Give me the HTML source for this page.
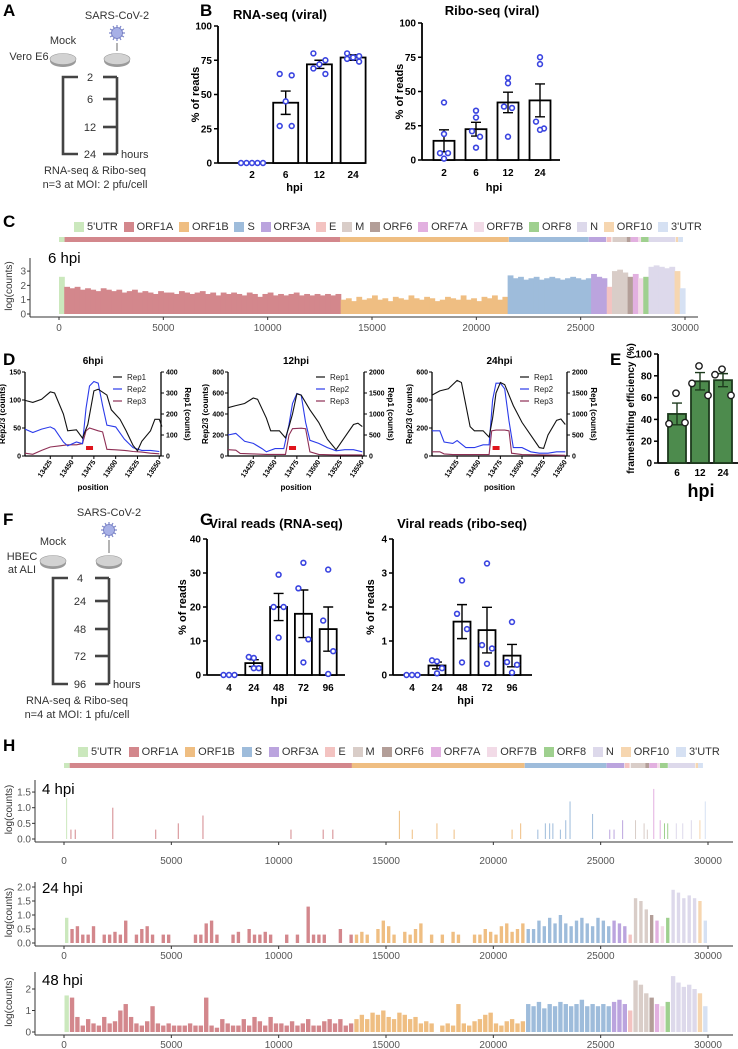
<!DOCTYPE html>
<html><head><meta charset="utf-8">
<style>
html,body{margin:0;padding:0;background:#fff;}
body{width:738px;height:1049px;position:relative;overflow:hidden;font-family:"Liberation Sans",sans-serif;}
svg{position:absolute;left:0;top:0;}
.lg{position:absolute;display:flex;justify-content:space-between;align-items:center;font-size:11px;color:#333;}
.lg span{display:flex;align-items:center;}
.lg i{display:inline-block;width:10px;height:10px;margin-right:3px;}
</style></head>
<body>
<svg id="fig" width="738" height="1049" viewBox="0 0 738 1049" xmlns="http://www.w3.org/2000/svg" font-family="Liberation Sans, sans-serif"></svg>
<div class="lg" id="legC" style="left:74px;top:221px;width:628px;"></div>
<div class="lg" id="legH" style="left:78px;top:746px;width:642px;"></div>
<script>
// ---------- DATA ----------
const geneNames = ["5'UTR","ORF1A","ORF1B","S","ORF3A","E","M","ORF6","ORF7A","ORF7B","ORF8","N","ORF10","3'UTR"];
const geneStarts = [0,266,13468,21563,25393,26245,26523,27202,27394,27756,27894,28274,29558,29675];
const geneEnds = [265,13483,21555,25384,26220,26472,27191,27387,27759,27887,28259,29533,29674,29903];
const geneColors = ["#cbe8bd","#d3878c","#efbe82","#9ebcdb","#bba4de","#f3c3c1","#d9cdc8","#b39e98","#e2b0e0","#f2dbe7","#9fd08f","#ddd9eb","#f6d6b0","#d6e1f3"];

const rnaCats = ["2","6","12","24"];
const rnaMeans = [0,44,72,77];
const rnaSems = [0,8.5,3,2];
const rnaPts = [[0,0,0,0,0],[65,64,45,27,27],[80,75,72,69,65],[80,78,77,76,74]];
const riboMeans = [14,22.5,42,43.5];
const riboSems = [8,5,7.5,12];
const riboPts = [[42,19,5,5,1],[36,31,21,17,9],[60,56,39,38,17],[75,70,28,23,22]];

const hbecCats = ["4","24","48","72","96"];
const hbecRnaMeans = [0,3.5,20,18,13.5];
const hbecRnaSems = [0,1,4,7,6.5];
const hbecRnaPts = [[0,0,0],[5,5.3,2,2],[29.5,20,20,11],[33,25.5,10.5,3.7],[31,16,7,0.3]];
const hbecRiboMeans = [0,0.28,1.57,1.32,0.57];
const hbecRiboSems = [0,0.1,0.5,0.67,0.33];
const hbecRiboPts = [[0,0,0],[0.4,0.43,0.2,0.05],[2.78,1.8,1.35,0.37],[3.28,0.88,0.78,0.33],[1.56,0.38,0.3,0.07]];

const fsCats = ["6","12","24"];
const fsMeans = [45,75,76];
const fsSems = [10,8,6];
const fsPts = [[64,36,37],[89,73,62],[86,81,62]];

const dPos6 = [13396,13405,13415,13425,13430,13440,13445,13455,13462,13468,13475,13480,13490,13495,13505,13512,13520,13525,13530,13540,13545,13550,13553];
const dRep1_6 = [265,255,270,305,300,200,120,125,85,150,310,318,290,220,175,120,50,25,70,120,175,175,140];
const dPosB = [13396,13405,13415,13425,13430,13440,13445,13455,13462,13466,13470,13475,13480,13485,13490,13500,13510,13520,13530,13540,13550];
const dRep2_6 = [48,42,48,52,48,25,18,25,22,85,125,133,130,90,55,52,30,15,10,10,8];
const dPosC = [13396,13405,13415,13425,13435,13445,13455,13462,13466,13470,13480,13485,13490,13500,13510,13520,13530,13540,13550];
const dRep3_6 = [5,3,10,16,18,20,20,22,45,50,45,43,12,11,10,8,7,5,4];

const dPos12a = [13396,13405,13415,13425,13430,13440,13445,13455,13462,13466,13470,13475,13480,13490,13500,13510,13520,13530,13540,13545,13550];
const dRep1_12 = [1150,1200,1250,1380,1350,900,600,600,430,700,1000,1480,1450,1100,800,400,150,450,750,780,700];
const dPos12b = [13396,13405,13415,13425,13435,13440,13450,13460,13466,13470,13475,13480,13485,13490,13500,13510,13520,13530,13540,13550];
const dRep2_12 = [200,215,140,120,70,40,70,70,300,500,595,580,320,150,120,80,50,60,60,40];
const dPos12c = [13396,13405,13410,13425,13440,13462,13466,13470,13480,13485,13490,13500,13520,13550];
const dRep3_12 = [60,55,25,20,15,15,200,260,265,260,40,15,10,10];

const dPos24a = [13396,13405,13415,13425,13430,13440,13445,13455,13462,13466,13470,13475,13480,13490,13500,13510,13520,13525,13530,13540,13545,13550];
const dRep1_24 = [1450,1550,1600,1800,1750,700,600,600,450,900,1500,1750,1700,1200,800,500,200,180,500,850,880,750];
const dPos24b = [13396,13405,13410,13420,13425,13435,13445,13455,13462,13466,13470,13475,13480,13485,13490,13500,13510,13520,13530,13540,13550];
const dRep2_24 = [180,180,100,90,110,60,60,80,80,400,520,520,480,250,60,60,30,20,20,30,30];
const dPos24c = [13396,13405,13410,13420,13462,13465,13470,13480,13485,13488,13500,13550];
const dRep3_24 = [30,30,15,10,10,180,185,185,180,20,10,5];

const dTicks = [13425,13450,13475,13500,13525,13550];

const cov6 = [2.6,1.9,1.8,1.9,1.7,1.8,1.7,1.6,1.8,1.7,1.6,1.7,1.5,1.6,1.7,1.5,1.6,1.5,1.4,1.6,1.5,1.5,1.4,1.6,1.5,1.4,1.5,1.6,1.4,1.5,1.3,1.5,1.4,1.5,1.4,1.3,1.5,1.4,1.2,1.4,1.5,1.3,1.4,1.3,1.4,1.5,1.3,1.4,1.3,1.4,1.3,1.4,1.3,1.4,
1.0,1.1,0.9,1.2,1.0,1.1,1.3,1.0,1.1,0.9,1.2,1.1,1.0,1.3,1.1,1.0,1.2,1.1,0.9,1.0,1.2,1.1,1.0,1.3,1.0,1.1,0.9,1.2,1.1,1.3,1.0,1.2,
2.7,2.5,2.6,2.4,2.5,2.6,2.4,2.5,2.6,2.5,2.4,2.5,2.6,2.5,2.4,2.5,
2.8,2.6,2.5,1.9,3.0,3.1,2.9,2.6,2.8,2.5,2.6,3.3,3.4,3.3,3.2,3.3,3.0,1.8];
const cov24 = [0.9,0.5,0.6,0.3,0.3,0.6,0,0.3,0.3,0.4,0.3,0.8,0,0.3,0.5,0.6,0.3,0,0.3,0.3,0,0,0,0,0.3,0.3,0.7,0.8,0.3,0,0,0.3,0.4,0,0.5,0.3,0.3,0.4,0.3,0,0,0.3,0,0.3,0,1.3,0.3,0.3,0.3,0,0,0.5,0,0.3,
0.3,0.4,0.3,0,0.5,0.8,0.6,0.3,0,0.4,0.3,0.5,0.7,0,0.3,0,0.3,0,0.4,0.3,0,0,0.3,0.3,0.5,0.4,0.3,0.6,0.7,0.4,0.5,0.7,
0.5,0.5,0.8,0.6,0.9,0.7,1.0,0.7,0.6,0.8,0.9,0.7,0.6,0.9,0.8,0.6,
0.8,0.7,0.6,0.3,1.6,1.5,1.2,1.0,0.8,0.6,0.9,1.9,1.8,1.6,1.7,1.6,1.5,0.8];
const cov48 = [1.7,1.6,0.7,0.3,0.6,0.4,0.3,0.7,0.4,0.5,1.0,1.3,0.7,0.4,0.3,0.5,1.2,0.4,0.3,0.4,0.3,0.3,0.3,0.4,0.3,0.3,1.6,0.3,0.2,0.6,0.4,0.3,0.3,0.6,0.3,0.7,0.5,0.3,0.7,0.4,0.4,0.3,0.5,0.3,0.4,0.6,0.3,0.3,0.5,0.6,0.4,0.6,0.3,0.4,
0.6,0.8,0.6,0.9,0.8,1.0,0.7,0.6,0.9,0.8,0.6,0.7,0.4,0.5,0.4,0,0.3,0.4,0.3,1.3,0.4,0.3,0.5,0.6,0.8,0.9,0.4,0.3,0.5,0.6,0.4,0.5,
1.3,1.2,1.4,1.1,1.3,1.2,1.4,1.3,1.2,1.3,1.5,1.2,1.3,1.2,1.3,1.2,
1.4,1.5,1.3,1.0,2.4,2.2,1.8,1.6,1.3,1.2,1.4,2.6,2.3,2.1,2.2,2.0,1.8,1.2];
const spike4Pos = [100,300,500,2250,4250,5300,6450,10550,12050,12500,15600,16200,17350,18150,20850,21250,22050,22400,22600,22750,23100,23350,23550,24600,25400,25600,26000,26600,27000,27150,27450,27750,27950,28100,28500,28800,29200,29600,29850];
const spike4Val = [1.3,0.3,0.3,1.0,0.3,0.5,0.75,0.3,0.3,0.3,0.9,0.3,0.5,0.3,0.3,0.5,0.3,0.5,0.5,0.5,0.3,0.6,1.2,0.8,0.3,0.3,0.6,0.6,0.5,0.3,1.6,0.6,0.5,0.5,0.5,0.5,0.6,0.6,1.2];
const genomeTicks = [0,5000,10000,15000,20000,25000,30000];

// ---------- HELPERS ----------
const svg = document.getElementById('fig');
const NS = 'http://www.w3.org/2000/svg';
function mk(tag, attrs, parent, txt){
  const e = document.createElementNS(NS, tag);
  for (const k in attrs) e.setAttribute(k, attrs[k]);
  if (txt !== undefined) e.textContent = txt;
  (parent || svg).appendChild(e);
  return e;
}
function grp(name){
  const g = mk('g', {});
  
  
  return g;
}
function label(txt, x, y, size, name, opts){
  opts = opts || {};
  const t = mk('text', {x:x, y:y, 'font-size':size, 'font-weight':opts.bold===false?'normal':'bold', 'text-anchor':opts.anchor||'start', fill:opts.fill||'#000'}, opts.parent, txt);
  if (opts.rot) t.setAttribute('transform', 'rotate(' + opts.rot + ' ' + x + ' ' + y + ')');
  
  
  return t;
}
function geneIndex(p){
  for (let i = geneStarts.length - 1; i >= 0; i--) if (p >= geneStarts[i]) return i;
  return 0;
}

// panel letters
[['A',3,16],['B',200,16],['C',3,227],['D',3,365],['E',610,365],['F',3,525],['G',200,525],['H',3,751]].forEach(function(l){
  label(l[0], l[1], l[2], 17, 'panel-label-' + l[0].toLowerCase());
});

// ---------- SCHEMATIC ----------
function schematic(cfg){
  const g = grp(cfg.name);
  label('SARS-CoV-2', cfg.rx, cfg.virusY - 14, 11, 'virus-label', {bold:false, anchor:'middle', parent:g, fill:'#333'});
  const v = mk('g', {}, g);
  
  
  for (let a = 0; a < 360; a += 30) {
    const r = a * Math.PI / 180;
    mk('line', {x1:cfg.rx, y1:cfg.virusY, x2:cfg.rx + 8*Math.cos(r), y2:cfg.virusY + 8*Math.sin(r), stroke:'#7c86c9', 'stroke-width':1.2}, v);
  }
  mk('circle', {cx:cfg.rx, cy:cfg.virusY, r:5.5, fill:'#a7b0e6', stroke:'#6f78bf', 'stroke-width':0.8}, v);
  mk('line', {x1:cfg.rx, y1:cfg.virusY + 10, x2:cfg.rx, y2:cfg.dishY - 8, stroke:'#444', 'stroke-width':0.8}, g);
  label('Mock', cfg.lx, cfg.mockY, 11, 'mock-label', {bold:false, anchor:'middle', parent:g, fill:'#333'});
  cfg.cellLines.forEach(function(t, i){
    label(t, cfg.cellX, cfg.cellY + i*13, 11, 'cell-line-label', {bold:false, anchor:'middle', parent:g, fill:'#333'});
  });
  [cfg.lx, cfg.rx].forEach(function(x, i){
    const d = mk('g', {}, g);
    
    
    mk('ellipse', {cx:x, cy:cfg.dishY + 2, rx:13, ry:6, fill:'#9a9a9a'}, d);
    mk('ellipse', {cx:x, cy:cfg.dishY, rx:13, ry:5.5, fill:'#d2d2d2', stroke:'#999', 'stroke-width':0.6}, d);
  });
  const top = cfg.tickY[0], bot = cfg.tickY[cfg.tickY.length - 1];
  const st = {stroke:'#444', 'stroke-width':2.6, fill:'none'};
  mk('path', Object.assign({d:'M' + (cfg.lx+15) + ' ' + top + 'H' + cfg.lx + 'V' + bot + 'H' + (cfg.lx+15)}, st), g);
  mk('line', Object.assign({x1:cfg.rx, y1:top, x2:cfg.rx, y2:bot}, st), g);
  cfg.tickY.forEach(function(y, i){
    mk('line', Object.assign({x1:cfg.rx - 14, y1:y, x2:cfg.rx, y2:y}, st), g);
    label(cfg.hours[i], cfg.labX, y + 4, 11, 'time-label', {bold:false, anchor:'middle', parent:g, fill:'#333'});
  });
  label('hours', cfg.rx + 4, bot + 4, 11, 'hours-label', {bold:false, parent:g, fill:'#333'});
  label('RNA-seq & Ribo-seq', cfg.textX, bot + 20, 11, 'method-label', {bold:false, anchor:'middle', parent:g, fill:'#333'});
  label(cfg.note, cfg.textX, bot + 34, 11, 'moi-label', {bold:false, anchor:'middle', parent:g, fill:'#333'});
}
schematic({name:'schematic-vero', lx:63, rx:117, virusY:33, dishY:59, mockY:44, cellLines:['Vero E6'], cellX:29, cellY:60,
  tickY:[77,99,127,154], hours:['2','6','12','24'], labX:90, textX:95, note:'n=3 at MOI: 2 pfu/cell'});
schematic({name:'schematic-hbec', lx:53, rx:109, virusY:530, dishY:561, mockY:545, cellLines:['HBEC','at ALI'], cellX:22, cellY:560,
  tickY:[578,601,629,656,684], hours:['4','24','48','72','96'], labX:80, textX:77, note:'n=4 at MOI: 1 pfu/cell'});

// ---------- BAR CHARTS ----------
function barChart(c){
  const g = grp(c.name);
  const y = function(v){ return c.y0 - v / c.ymax * (c.y0 - c.yTop); };
  if (c.title) label(c.title, c.titleX, c.titleY, 13, 'chart-title', {anchor:'middle', parent:g});
  c.ticks.forEach(function(t){
    mk('line', {x1:c.ax - 4, y1:y(t), x2:c.ax, y2:y(t), stroke:'#000', 'stroke-width':1.5}, g);
    label(c.tickFmt ? c.tickFmt(t) : String(t), c.ax - 6, y(t) + 3.5, 10, 'y-tick-label', {anchor:'end', parent:g});
  });
  const ya = mk('line', {x1:c.ax, y1:c.yTop, x2:c.ax, y2:c.y0, stroke:'#000', 'stroke-width':1.8}, g);
   
  const xa = mk('line', {x1:c.ax, y1:c.y0, x2:c.axEnd, y2:c.y0, stroke:'#000', 'stroke-width':1.8}, g);
   
  label(c.ytitle, c.ytX, (c.yTop + c.y0) / 2, c.ytSize || 11, 'y-axis-title', {anchor:'middle', parent:g, rot:-90});
  label('hpi', (c.ax + c.axEnd) / 2 + 3, c.hpiY, c.hpiSize || 11, 'x-axis-title', {anchor:'middle', parent:g});
  c.cats.forEach(function(cat, i){
    const cx = c.x0 + i * c.step;
    const r = mk('rect', {x:cx - c.bw/2, y:y(c.means[i]), width:c.bw, height:Math.max(0, c.y0 - y(c.means[i])), fill:c.fill, stroke:c.stroke, 'stroke-width':1.8}, g);
    
    
    if (c.sems[i] > 0) {
      const e = mk('path', {d:'M' + (cx-5) + ' ' + y(c.means[i]+c.sems[i]) + 'H' + (cx+5) + 'M' + cx + ' ' + y(c.means[i]+c.sems[i]) + 'V' + y(c.means[i]-c.sems[i]) + 'M' + (cx-5) + ' ' + y(c.means[i]-c.sems[i]) + 'H' + (cx+5), stroke:c.errStroke || '#000', 'stroke-width':1.4, fill:'none'}, g);
      
      
    }
    label(cat, cx, c.tickY, 10, 'x-tick-label', {anchor:'middle', parent:g});
    const pts = c.pts[i];
    const allZero = pts.every(function(p){ return p === 0; });
    pts.forEach(function(p, j){
      let off;
      if (allZero) off = (j - (pts.length - 1) / 2) * 5.5;
      else off = c.offs[j % c.offs.length];
      const d = mk('circle', {cx:cx + off, cy:y(p), r:c.dotR || 2.4, fill:'#fff', stroke:c.dot, 'stroke-width':c.dotW || 1.6}, g);
      
      
    });
  });
}
barChart({name:'rna-seq-viral-chart', title:'RNA-seq (viral)', titleX:280, titleY:19, ax:218, axEnd:365, yTop:26, y0:163, ymax:100, ticks:[0,25,50,75,100],
  cats:rnaCats, means:rnaMeans, sems:rnaSems, pts:rnaPts, x0:252, step:33.7, bw:25, fill:'#fff', stroke:'#000', dot:'#3a44e0',
  offs:[-6,6,0,-6,6], ytitle:'% of reads', ytX:199, tickY:178, hpiY:191});
barChart({name:'ribo-seq-viral-chart', title:'Ribo-seq (viral)', titleX:492, titleY:15, ax:422, axEnd:560, yTop:23, y0:160, ymax:100, ticks:[0,25,50,75,100],
  cats:rnaCats, means:riboMeans, sems:riboSems, pts:riboPts, x0:444, step:32, bw:21, fill:'#fff', stroke:'#000', dot:'#3a44e0',
  offs:[0,0,-4,4,0], ytitle:'% of reads', ytX:403, tickY:176, hpiY:191});
barChart({name:'hbec-rna-seq-chart', title:'Viral reads (RNA-seq)', titleX:276, titleY:528, ax:207, axEnd:345, yTop:539, y0:675, ymax:40, ticks:[0,10,20,30,40],
  cats:hbecCats, means:hbecRnaMeans, sems:hbecRnaSems, pts:hbecRnaPts, x0:229, step:24.8, bw:17, fill:'#fff', stroke:'#000', dot:'#3a44e0',
  offs:[0,-5,5,0], ytitle:'% of reads', ytX:186, tickY:691, hpiY:704});
barChart({name:'hbec-ribo-seq-chart', title:'Viral reads (ribo-seq)', titleX:462, titleY:528, ax:393, axEnd:532, yTop:539, y0:675, ymax:4, ticks:[0,1,2,3,4],
  cats:hbecCats, means:hbecRiboMeans, sems:hbecRiboSems, pts:hbecRiboPts, x0:412, step:25, bw:17, fill:'#fff', stroke:'#000', dot:'#3a44e0',
  offs:[0,-5,5,0], ytitle:'% of reads', ytX:374, tickY:691, hpiY:704});
barChart({name:'frameshifting-chart', ax:658, axEnd:738, yTop:354, y0:463, ymax:100, ticks:[0,20,40,60,80,100],
  cats:fsCats, means:fsMeans, sems:fsSems, pts:fsPts, x0:677, step:23, bw:18, fill:'#4d8b4d', stroke:'#1d3a1d', errStroke:'#1d3a1d', dot:'#1d1d1d',
  offs:[-1,-8,8], ytitle:'frameshifting efficiency (%)', ytX:634, ytSize:10, tickY:476, hpiY:497, hpiSize:18, dotR:3.2, dotW:1.4});

// ---------- PANEL D line charts ----------
function lineChart(c){
  const g = grp(c.name);
  const top = 372, bot = 456, pMin = 13396, pMax = 13552;
  const x = function(p){ return c.l + (p - pMin) / (pMax - pMin) * (c.r - c.l); };
  const yl = function(v){ return bot - v / c.lmax * (bot - top); };
  const yr = function(v){ return bot - v / c.rmax * (bot - top); };
  label(c.title, (c.l + c.r) / 2, 364, 10, 'chart-title', {anchor:'middle', parent:g});
  mk('line', {x1:c.l, y1:top, x2:c.l, y2:bot, stroke:'#000', 'stroke-width':1.3}, g);
  mk('line', {x1:c.r, y1:top, x2:c.r, y2:bot, stroke:'#000', 'stroke-width':1.3}, g);
  mk('line', {x1:c.l, y1:bot, x2:c.r, y2:bot, stroke:'#000', 'stroke-width':1.3}, g);
  c.lticks.forEach(function(t){
    mk('line', {x1:c.l - 3, y1:yl(t), x2:c.l, y2:yl(t), stroke:'#000', 'stroke-width':1}, g);
    label(String(t), c.l - 4, yl(t) + 2.5, 7, 'left-tick-label', {anchor:'end', parent:g});
  });
  c.rticks.forEach(function(t){
    mk('line', {x1:c.r, y1:yr(t), x2:c.r + 3, y2:yr(t), stroke:'#000', 'stroke-width':1}, g);
    label(String(t), c.r + 5, yr(t) + 2.5, 7, 'right-tick-label', {parent:g});
  });
  dTicks.forEach(function(t){
    mk('line', {x1:x(t), y1:bot, x2:x(t), y2:bot + 3, stroke:'#000', 'stroke-width':1}, g);
    label(String(t), x(t) + 2, bot + 6, 7, 'x-tick-label', {anchor:'end', parent:g, rot:-55});
  });
  label('Rep2/3 (counts)', c.l - 20, (top + bot) / 2, 8, 'left-axis-title', {anchor:'middle', parent:g, rot:-90});
  label('Rep1 (counts)', c.r + 24, (top + bot) / 2, 8, 'right-axis-title', {anchor:'middle', parent:g, rot:90});
  label('position', (c.l + c.r) / 2, 490, 8, 'x-axis-title', {anchor:'middle', parent:g});
  function line(pos, vals, fn, col, nm){
    const d = pos.map(function(p, i){ return (i ? 'L' : 'M') + x(p).toFixed(1) + ' ' + fn(vals[i]).toFixed(1); }).join('');
    const p = mk('path', {d:d, stroke:col, 'stroke-width':1.1, fill:'none'}, g);
    
    
  }
  line(c.p3, c.r3, yl, '#8e2f55', 'rep3-line');
  line(c.p2, c.r2, yl, '#2b3bea', 'rep2-line');
  line(c.p1, c.r1, yr, '#111', 'rep1-line');
  const m = mk('rect', {x:x(13466), y:bot - 10, width:7, height:4, fill:'#e0141c'}, g);
  
  
  [['Rep1','#111'],['Rep2','#2b3bea'],['Rep3','#8e2f55']].forEach(function(e, i){
    const lg = mk('g', {}, g);
    
    
    mk('line', {x1:c.l + 88, y1:377 + i*12, x2:c.l + 97, y2:377 + i*12, stroke:e[1], 'stroke-width':1.2}, lg);
    mk('text', {x:c.l + 102, y:380 + i*12, 'font-size':8, fill:'#222'}, lg, e[0]);
  });
}
lineChart({name:'fs-6hpi-chart', title:'6hpi', l:25, r:161, lmax:150, rmax:400, lticks:[0,50,100,150], rticks:[0,100,200,300,400],
  p1:dPos6, r1:dRep1_6, p2:dPosB, r2:dRep2_6, p3:dPosC, r3:dRep3_6});
lineChart({name:'fs-12hpi-chart', title:'12hpi', l:228, r:364, lmax:800, rmax:2000, lticks:[0,200,400,600,800], rticks:[0,500,1000,1500,2000],
  p1:dPos12a, r1:dRep1_12, p2:dPos12b, r2:dRep2_12, p3:dPos12c, r3:dRep3_12});
lineChart({name:'fs-24hpi-chart', title:'24hpi', l:432, r:567, lmax:600, rmax:2000, lticks:[0,200,400,600], rticks:[0,500,1000,1500,2000],
  p1:dPos24a, r1:dRep1_24, p2:dPos24b, r2:dRep2_24, p3:dPos24c, r3:dRep3_24});

// ---------- GENOME TRACKS ----------
function genomeBar(x0, x1, y, h, name){
  const g = grp(name);
  const sc = (x1 - x0) / 30000;
  geneNames.forEach(function(n, i){
    const r = mk('rect', {x:x0 + geneStarts[i]*sc, y:y, width:Math.max(1, (geneEnds[i] - geneStarts[i])*sc), height:h, fill:geneColors[i]}, g);
    
    
  });
}
genomeBar(59, 685, 237, 5, 'genome-map-c');
genomeBar(64, 705, 763, 5, 'genome-map-h');

function track(c){
  const g = grp(c.name);
  const x = function(p){ return c.x0 + p * c.sc; };
  const y = function(v){ return c.y0 - v * c.unit; };
  label(c.title, c.titleX, c.titleY, 15, 'track-title', {bold:false, parent:g});
  mk('line', {x1:c.ax, y1:c.axTop, x2:c.ax, y2:c.y0 + 3, stroke:'#333', 'stroke-width':1}, g);
  mk('line', {x1:c.ax, y1:c.y0 + 3, x2:c.axEnd, y2:c.y0 + 3, stroke:'#333', 'stroke-width':1}, g);
  c.yticks.forEach(function(t, i){
    mk('line', {x1:c.ax - 3, y1:y(t), x2:c.ax, y2:y(t), stroke:'#333', 'stroke-width':1}, g);
    label(c.ytickLabels[i], c.ax - 4, y(t) + 3.5, 10, 'y-tick-label', {bold:false, anchor:'end', parent:g, fill:'#555'});
  });
  genomeTicks.forEach(function(t){
    mk('line', {x1:x(t), y1:c.y0 + 3, x2:x(t), y2:c.y0 + 6, stroke:'#333', 'stroke-width':1}, g);
    label(String(t), x(t), c.tickY, 10, 'x-tick-label', {bold:false, anchor:'middle', parent:g, fill:'#555'});
  });
  label('log(counts)', 12, c.y0 - (c.y0 - c.axTop) / 2, 10, 'y-axis-title', {bold:false, anchor:'middle', parent:g, rot:-90, fill:'#333'});
  if (c.bins) {
    c.bins.forEach(function(v, i){
      if (v <= 0) return;
      const p = i * 250 + 125;
      const r = mk('rect', {x:x(i*250) + (c.gap || 0), y:y(v), width:250*c.sc - (c.gap || 0)*2 + (c.gap ? 0 : 0.6), height:v*c.unit, fill:geneColors[geneIndex(p)]}, g);
      
      
    });
  }
  if (c.spikePos) {
    c.spikePos.forEach(function(p, i){
      const r = mk('rect', {x:x(p), y:y(c.spikeVal[i]), width:1, height:c.spikeVal[i]*c.unit, fill:geneColors[geneIndex(p)]}, g);
      
      
    });
  }
}
track({name:'coverage-6hpi', title:'6 hpi', titleX:48, titleY:263, x0:59, sc:626/30000, y0:314, unit:14.3, ax:30, axEnd:698, axTop:258,
  yticks:[0,1,2,3], ytickLabels:['0','1','2','3'], tickY:331, bins:cov6});
track({name:'coverage-4hpi', title:'4 hpi', titleX:42, titleY:794, x0:64, sc:644/30000, y0:839, unit:31.3, ax:35, axEnd:733, axTop:780,
  yticks:[0,0.5,1,1.5], ytickLabels:['0.0','0.5','1.0','1.5'], tickY:864, spikePos:spike4Pos, spikeVal:spike4Val});
track({name:'coverage-24hpi', title:'24 hpi', titleX:42, titleY:893, x0:64, sc:644/30000, y0:943, unit:28, ax:35, axEnd:733, axTop:882,
  yticks:[0,0.5,1,1.5,2], ytickLabels:['0.0','0.5','1.0','1.5','2.0'], tickY:959, bins:cov24, gap:1});
track({name:'coverage-48hpi', title:'48 hpi', titleX:42, titleY:985, x0:64, sc:644/30000, y0:1032, unit:21.5, ax:35, axEnd:733, axTop:972,
  yticks:[0,1,2], ytickLabels:['0','1','2'], tickY:1048, bins:cov48, gap:0.5});

// legends
['legC','legH'].forEach(function(id){
  const box = document.getElementById(id);
  geneNames.forEach(function(n, i){
    const s = document.createElement('span');
    
    
    const sw = document.createElement('i');
    sw.style.background = geneColors[i];
    s.appendChild(sw);
    s.appendChild(document.createTextNode(n));
    box.appendChild(s);
  });
});
</script>
</body></html>
